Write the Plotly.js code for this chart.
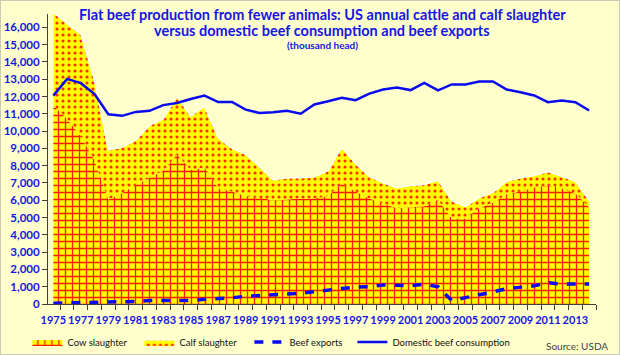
<!DOCTYPE html>
<html>
<head>
<meta charset="utf-8">
<script src="https://cdn.plot.ly/plotly-3.0.1.min.js"></script>
<style>
  html, body { margin: 0; padding: 0; background: #FFFFCC; }
  #wrap { position: relative; width: 620px; height: 355px; }
  #chart { width: 620px; height: 355px; }
  #frame { position: absolute; left: 0; top: 0; width: 620px; height: 355px; box-sizing: border-box; border: 1px solid #C9C9B8; pointer-events: none; }
</style>
</head>
<body>
<div id="wrap"><div id="chart"></div><div id="frame"></div></div>
<script>
// ---- data (thousand head) ----
const years = [1975,1976,1977,1978,1979,1980,1981,1982,1983,1984,
               1985,1986,1987,1988,1989,1990,1991,1992,1993,1994,
               1995,1996,1997,1998,1999,2000,2001,2002,2003,2004,
               2005,2006,2007,2008,2009,2010,2011,2012,2013,2014];

const cowSlaughter = [11500,10700,9700,8300,6050,6400,6900,7300,7700,8650,
                      7750,7900,6700,6500,6250,6150,6000,6050,6100,6100,
                      6250,7000,6500,6100,5800,5550,5600,5650,6050,4950,
                      4950,5550,5850,6350,6500,6750,6850,6700,6400,5600];

const calfSlaughter = [5350,5500,5890,4600,2850,2660,2570,3020,3000,3330,
                       3110,3520,2900,2500,2400,1800,1170,1240,1190,1250,
                       1450,2050,1600,1280,1200,1160,1240,1250,1110,1000,
                       690,600,600,750,790,670,800,680,700,380];

const beefExports = [50,60,80,90,110,130,150,200,200,220,
                     200,270,310,360,450,510,550,580,620,730,
                     830,900,980,1000,1100,1100,1050,1140,1000,200,
                     350,550,700,880,960,1050,1230,1150,1150,1150];

const domesticConsumption = [12050,13020,12770,12140,10970,10880,11110,11170,11500,11620,
                             11850,12050,11680,11680,11240,11050,11090,11170,11000,11540,
                             11730,11920,11790,12170,12400,12520,12370,12790,12350,12700,
                             12700,12870,12870,12400,12250,12060,11670,11770,11670,11190];

const xTickYears = [1975,1977,1979,1981,1983,1985,1987,1989,1991,1993,
                    1995,1997,1999,2001,2003,2005,2007,2009,2011,2013];
const xTickText = xTickYears.map(String);

const seriesNames = ['Cow slaughter', 'Calf slaughter', 'Beef exports', 'Domestic beef consumption'];

const titleLines = [
  'Flat beef production from fewer animals: US annual cattle and calf slaughter',
  'versus domestic beef consumption and beef exports',
  '(thousand head)'
];

// ---- styling ----
const BLUE = '#0A0AF0';
const TXT_BLUE = '#1515E6';
const FONT = 'Lato, "Open Sans", sans-serif';
const AXIS_COL = '#404040';
const xRange = [1974.61, 2014.5];
const yRange = [0, 16770];

const traces = [
  {
    x: years, y: cowSlaughter, name: seriesNames[0], type: 'scatter', mode: 'lines',
    stackgroup: 'slaughter', fill: 'tozeroy', legend: 'legend',
    line: { width: 0, color: '#FF3300' },
    fillcolor: '#FFFF00',
    fillpattern: { shape: '+', bgcolor: '#FFFF00', fgcolor: '#FF1A00', size: 7, solidity: 0.34 },
    hoverinfo: 'x+y+name'
  },
  {
    x: years, y: calfSlaughter, name: seriesNames[1], type: 'scatter', mode: 'lines',
    stackgroup: 'slaughter', fill: 'tonexty', legend: 'legend2',
    line: { width: 1.2, color: '#FFFFFF' },
    fillcolor: '#FFFF00',
    fillpattern: { shape: '.', bgcolor: '#FFFF00', fgcolor: '#FF3300', size: 6, solidity: 0.22 },
    hoverinfo: 'x+y+name'
  },
  {
    x: years, y: beefExports, name: seriesNames[2], type: 'scatter', mode: 'lines', legend: 'legend3',
    line: { width: 3.5, color: BLUE, dash: '9px,9px' }
  },
  {
    x: years, y: domesticConsumption, name: seriesNames[3], type: 'scatter', mode: 'lines', legend: 'legend4',
    line: { width: 2.5, color: BLUE }
  }
];

function legendAt(xp) {
  return {
    orientation: 'h', x: xp, xanchor: 'left', y: -0.131, yanchor: 'middle',
    bgcolor: 'rgba(0,0,0,0)',
    font: { family: FONT, size: 9.5, color: '#111111' },
    itemwidth: 30
  };
}

const layout = {
  width: 620, height: 355,
  paper_bgcolor: '#FFFFCC', plot_bgcolor: '#FFFFCC',
  margin: { l: 48, r: 24, t: 14, b: 51, pad: 0, autoexpand: false },
  font: { family: FONT, color: TXT_BLUE },
  showlegend: true,
  xaxis: {
    type: 'linear', range: xRange, fixedrange: true, automargin: false,
    showgrid: false, zeroline: false,
    showline: true, linecolor: AXIS_COL, linewidth: 1,
    tickvals: xTickYears, ticktext: xTickText, ticks: '', tickangle: 0,
    ticklabelstandoff: 6,
    tickfont: { family: FONT, size: 11, color: TXT_BLUE, weight: 'bold' },
    minor: { tick0: 1975.5, dtick: 1, ticks: 'outside', ticklen: 5, tickcolor: AXIS_COL, tickwidth: 1, showgrid: false }
  },
  yaxis: {
    range: yRange, fixedrange: true, automargin: false,
    showgrid: false, zeroline: false,
    showline: true, linecolor: AXIS_COL, linewidth: 1,
    dtick: 1000, tick0: 0, tickformat: ',d',
    ticks: 'outside', ticklen: 5, tickcolor: AXIS_COL, tickwidth: 1,
    tickfont: { family: FONT, size: 11.5, color: TXT_BLUE, weight: 'bold' }
  },
  yaxis2: {
    overlaying: 'y', side: 'left', anchor: 'x', range: yRange, fixedrange: true, automargin: false,
    showgrid: false, zeroline: false, showline: false, showticklabels: false,
    dtick: 1000, tick0: 0, ticks: 'inside', ticklen: 5, tickcolor: AXIS_COL, tickwidth: 1
  },
  xaxis2: {
    overlaying: 'x', side: 'bottom', anchor: 'y', range: xRange, fixedrange: true, automargin: false,
    showgrid: false, zeroline: false, showline: false, showticklabels: false, ticks: '',
    minor: { tick0: 1975.5, dtick: 1, ticks: 'inside', ticklen: 3, tickcolor: AXIS_COL, tickwidth: 1, showgrid: false }
  },
  legend: legendAt(-0.0376),
  legend2: legendAt(0.1668),
  legend3: legendAt(0.3675),
  legend4: legendAt(0.5555),
  annotations: [
    {
      text: '<b>' + titleLines[0] + '</b>',
      xref: 'paper', yref: 'paper', x: 0.5, xanchor: 'center', y: 1.0, yanchor: 'middle',
      showarrow: false, font: { family: FONT, size: 14.5, color: TXT_BLUE }
    },
    {
      text: '<b>' + titleLines[1] + '</b>',
      xref: 'paper', yref: 'paper', x: 0.5, xanchor: 'center', y: 0.9414, yanchor: 'middle',
      showarrow: false, font: { family: FONT, size: 14.5, color: TXT_BLUE }
    },
    {
      text: '<b>' + titleLines[2] + '</b>',
      xref: 'paper', yref: 'paper', x: 0.5, xanchor: 'center', y: 0.893, yanchor: 'middle',
      showarrow: false, font: { family: FONT, size: 10, color: TXT_BLUE }
    },
    {
      text: 'Source: USDA', xref: 'paper', yref: 'paper',
      x: 1.0255, xanchor: 'right', y: -0.145, yanchor: 'middle',
      showarrow: false, font: { family: FONT, size: 10, color: '#404040' }
    }
  ]
};

Plotly.newPlot('chart', traces, layout, { staticPlot: true, displayModeBar: false });
</script>
</body>
</html>
